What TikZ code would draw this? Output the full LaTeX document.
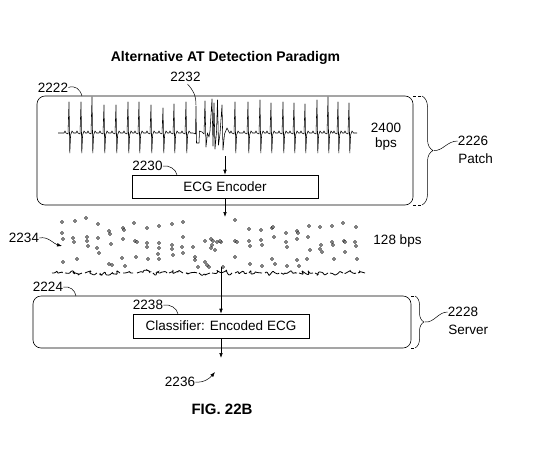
\documentclass[tikz,border=0pt]{standalone}
\usepackage{fontspec}
\setmainfont{Liberation Sans}
\usetikzlibrary{arrows.meta,decorations.pathreplacing,decorations.pathmorphing}

\begin{document}
\begin{tikzpicture}[x=1pt,y=-1pt,line width=0.6pt,
    lbl/.style={inner sep=0pt,font=\fontsize{13.5}{16}\selectfont},
    box/.style={draw,inner sep=0pt,font=\fontsize{13.5}{16}\selectfont},
    unit/.style={draw,rounded corners=8pt,inner sep=0pt},
    lead/.style={line width=0.5pt},
    arr/.style={-{Latex[length=5pt,width=3.6pt]}},
    tail/.style={dash pattern=on 3pt off 2pt,line width=0.5pt},
    curly/.style={decorate,decoration={brace,amplitude=#1},line width=0.5pt},
    ecg/.style={line width=0.55pt,line join=round},
    bit/.style={circle,draw,fill=white,inner sep=0pt,minimum size=3pt,line width=0.4pt},
    noise/.style={decorate,decoration={random steps,segment length=2pt,amplitude=2.8pt},rounded corners=0.8pt,line width=0.8pt}]
                \useasboundingbox (0,0) rectangle (534,452);
                \pgfmathsetseed{2234}

                \node[inner sep=0pt,font=\bfseries\fontsize{14}{16}\selectfont] (title) at (225.5,57.5) {Alternative AT Detection Paradigm};

                % patch
                \node[unit,minimum width=376pt,minimum height=109pt] (patch) at (225,150.5) {};
                \node[box,minimum width=186pt,minimum height=23pt] (enc) at (225,186.5) {ECG Encoder};
                \draw[ecg] (58,133)
                    \foreach \x/\t in {69/102,81/102,92/97,104/105,116/105,128/102,139/102,151/105,163/108,174/104,186/102}
                    { -- (\x-5,133) -- (\x-4,131) -- (\x-3,133) -- (\x-1,134) -- (\x,\t) -- (\x+0.8,153) -- (\x+1.6,135) -- (\x+3,131) -- (\x+4.5,133) }
                    -- (193,133) -- (195.5,134) -- (196,106) -- (196.5,143) -- (199,143) -- (199.5,131) -- (202,132) -- (204,134)
                    -- (205,101) -- (206,147) -- (207.5,133) -- (209,137) -- (210,131) -- (212,99) -- (213,146) -- (214,103)
                    -- (215,149) -- (216.5,132) -- (217.5,100) -- (218.5,145) -- (220,134) -- (222,105) -- (223,150)
                    -- (224.5,134) -- (227,128) -- (229.5,133)
                    \foreach \x/\t in {235/102,248/102,260/100,271/103,283/102,294/103,305/104,317/100,328/97,338/102,349/103}
                    { -- (\x-5,133) -- (\x-4,131) -- (\x-3,133) -- (\x-1,134) -- (\x,\t) -- (\x+0.8,153) -- (\x+1.6,135) -- (\x+3,131) -- (\x+4.5,133) }
                    -- (357,133);
                \node[lbl,align=center,font=\fontsize{13.5}{15}\selectfont] (rate1) at (386,136.5) {2400\\bps};

                \node[lbl] (l2222) at (53,87.5) {2222};
                \coordinate (c2222) at (82,96);
                \draw[lead] (l2222.east) .. controls (75,85) and (80,89) .. (c2222);
                \node[lbl] (l2232) at (185.5,77) {2232};
                \coordinate (c2232) at (196,105);
                \draw[lead] ([xshift=2pt,yshift=-2pt]l2232.south) .. controls (193,90) and (196,95) .. (c2232);
                \node[lbl] (l2230) at (147.5,166) {2230};
                \coordinate (c2230) at (177,175);
                \draw[lead] (l2230.east) .. controls (169,165) and (176,169) .. (c2230);

                \coordinate (ecgout) at (225,156);
                \draw[arr] (ecgout) -- (enc.north);
                \coordinate (encout) at (225,217);
                \draw[arr] (enc.south) -- (encout);

                % brace for the patch
                \coordinate (pt1) at (422,96);
                \coordinate (pt2) at (422,205);
                \draw[tail] (413,96) -- (pt1);
                \draw[tail] (413,205) -- (pt2);
                \draw[curly=11pt] (pt1) -- (pt2);
                \coordinate (ptip) at (434,150.5);
                \node[lbl] (n2226) at (473,141) {2226};
                \node[lbl,anchor=west] (npatch) at (458,159) {Patch};
                \draw[lead] (ptip) .. controls (443,151) and (447,141) .. (n2226.west);

                % encoded bits
                \foreach \px/\py in {62/222,75/221,86/218,98/224,109/231,123/228,124/230,134/223,147/228,159/226,172/224,183/222,
                    62/233,63/239,73/238,74/242,87/237,87/241,88/246,98/238,97/248,99/253,110/234,111/244,123/239,135/241,
                    137/242,147/243,147/247,159/243,159/248,158/254,172/245,172/249,173/255,183/237,182/247,183/253,193/247,
                    195/257,195/260,205/241,211/239,213/241,217/242,221/242,212/245,211/248,215/250,
                    63/262,77/259,109/264,112/265,122/258,125/266,136/257,148/259,159/259,205/262,207/265,209/267,198/267,223/267,
                    235/220,249/229,261/230,272/228,273/227,286/233,297/231,298/233,309/226,320/227,332/226,343/223,356/227,
                    220/241,235/241,237/242,249/241,250/246,261/240,262/245,274/237,286/242,287/247,297/239,308/237,310/250,
                    321/245,320/249,322/252,332/242,333/245,344/241,345/242,345/252,355/242,356/246,
                    235/257,250/264,262/266,272/259,275/264,287/266,297/260,299/266,307/259,334/259,357/259}
                    \node[bit] at (\px,\py) {};
                \foreach \a/\b in {52/62,65/82,85/97,100/120,123/133,137/150,153/167,169/183,186/197,199/210,212/232,
                    235/247,249/262,265/279,281/297,299/313,315/328,330/343,345/356,358/365}
                    \draw[noise] (\a,273) -- (\b,273);
                \node[lbl] (rate2) at (397.5,241) {128 bps};
                \node[lbl] (l2234) at (24,238) {2234};
                \coordinate (c2234) at (62,246);
                \draw[lead,arr] (l2234.east) .. controls (48,236) and (54,244) .. (c2234);

                % server
                \node[unit,minimum width=378pt,minimum height=52pt] (server) at (222,322) {};
                \node[box,minimum width=176pt,minimum height=24pt] (cls) at (221,326) {Classifier: Encoded ECG};
                \coordinate (bitsout) at (221,267);
                \draw[arr] (bitsout) -- (cls.north);
                \coordinate (clsout) at (221,358);
                \draw[arr] (cls.south) -- (clsout);

                \node[lbl] (l2224) at (48,287) {2224};
                \coordinate (c2224) at (76,296);
                \draw[lead] (l2224.east) .. controls (70,286) and (75,290) .. (c2224);
                \node[lbl] (l2238) at (148,305) {2238};
                \coordinate (c2238) at (178,314);
                \draw[lead] (l2238.east) .. controls (170,304) and (177,308) .. (c2238);
                \node[lbl] (l2236) at (180,382) {2236};
                \coordinate (c2236) at (215,372);
                \draw[lead,arr] (l2236.east) .. controls (204,383) and (210,378) .. (c2236);

                % brace for the server
                \coordinate (st1) at (415,296);
                \coordinate (st2) at (415,348);
                \draw[tail] (411,296) -- (st1);
                \draw[tail] (411,348) -- (st2);
                \draw[curly=9pt] (st1) -- (st2);
                \coordinate (stip) at (425,322);
                \node[lbl] (n2228) at (463,312) {2228};
                \node[lbl,anchor=west] (nserver) at (448,330) {Server};
                \draw[lead] (stip) .. controls (434,323) and (438,312) .. (n2228.west);

                \node[inner sep=0pt,font=\bfseries\fontsize{15}{17}\selectfont] (fig) at (222,409) {FIG. 22B};
            \end{tikzpicture}
\end{document}
